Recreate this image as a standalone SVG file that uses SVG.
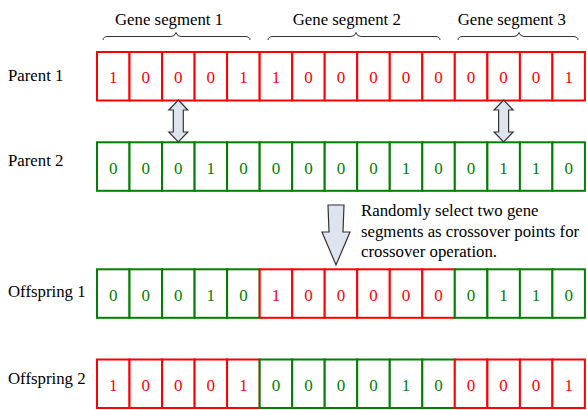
<svg xmlns="http://www.w3.org/2000/svg" width="587" height="410" viewBox="0 0 587 410">
<style>
.t{font-family:'Liberation Serif','Times New Roman',serif;font-size:16.8px;fill:#000}
.tr{font-family:'Liberation Serif','Times New Roman',serif;fill:#ff0000;text-anchor:middle;font-size:17px}
.tg{font-family:'Liberation Serif','Times New Roman',serif;fill:#008000;text-anchor:middle;font-size:17px}
.r{fill:#fff;stroke:#ff0000;stroke-width:2}
.g{fill:#fff;stroke:#008000;stroke-width:2}
.brace{fill:none;stroke:#333;stroke-width:1}
.arr{fill:#dde4ee;stroke:#333;stroke-width:1.2;stroke-linejoin:miter}
</style>
<g id="braces">
<path class="brace" d="M103,40 Q103,36.5 108,36.5 L171,36.5 Q175,36.5 176,32.5 Q177,36.5 181,36.5 L245,36.5 Q250,36.5 250,40"/>
<path class="brace" d="M268,40 Q268,36.5 273,36.5 L351,36.5 Q355,36.5 356,32.5 Q357,36.5 361,36.5 L435,36.5 Q440,36.5 440,40"/>
<path class="brace" d="M458,40 Q458,36.5 463,36.5 L514,36.5 Q518,36.5 519,32.5 Q520,36.5 524,36.5 L573,36.5 Q578,36.5 578,40"/>
<text class="t" x="115" y="25">Gene segment 1</text>
<text class="t" x="292.7" y="25">Gene segment 2</text>
<text class="t" x="457.7" y="25">Gene segment 3</text>
</g>
<g id="parent1">
<text class="t" x="8" y="81">Parent 1</text>
<rect class="r" x="97" y="52" width="32.5" height="48.5"/><rect class="r" x="129.5" y="52" width="32.5" height="48.5"/><rect class="r" x="162.1" y="52" width="32.5" height="48.5"/><rect class="r" x="194.6" y="52" width="32.5" height="48.5"/><rect class="r" x="227.1" y="52" width="32.5" height="48.5"/><rect class="r" x="259.7" y="52" width="32.5" height="48.5"/><rect class="r" x="292.2" y="52" width="32.5" height="48.5"/><rect class="r" x="324.7" y="52" width="32.5" height="48.5"/><rect class="r" x="357.2" y="52" width="32.5" height="48.5"/><rect class="r" x="389.8" y="52" width="32.5" height="48.5"/><rect class="r" x="422.3" y="52" width="32.5" height="48.5"/><rect class="r" x="454.8" y="52" width="32.5" height="48.5"/><rect class="r" x="487.4" y="52" width="32.5" height="48.5"/><rect class="r" x="519.9" y="52" width="32.5" height="48.5"/><rect class="r" x="552.4" y="52" width="32.5" height="48.5"/>
<text class="tr" x="113.3" y="83">1</text><text class="tr" x="145.8" y="83">0</text><text class="tr" x="178.3" y="83">0</text><text class="tr" x="210.8" y="83">0</text><text class="tr" x="243.4" y="83">1</text><text class="tr" x="275.9" y="83">1</text><text class="tr" x="308.4" y="83">0</text><text class="tr" x="341" y="83">0</text><text class="tr" x="373.5" y="83">0</text><text class="tr" x="406" y="83">0</text><text class="tr" x="438.5" y="83">0</text><text class="tr" x="471.1" y="83">0</text><text class="tr" x="503.6" y="83">0</text><text class="tr" x="536.1" y="83">0</text><text class="tr" x="568.7" y="83">1</text>
</g>
<g id="parent2">
<text class="t" x="8" y="166">Parent 2</text>
<rect class="g" x="97" y="142.3" width="32.5" height="48.5"/><rect class="g" x="129.5" y="142.3" width="32.5" height="48.5"/><rect class="g" x="162.1" y="142.3" width="32.5" height="48.5"/><rect class="g" x="194.6" y="142.3" width="32.5" height="48.5"/><rect class="g" x="227.1" y="142.3" width="32.5" height="48.5"/><rect class="g" x="259.7" y="142.3" width="32.5" height="48.5"/><rect class="g" x="292.2" y="142.3" width="32.5" height="48.5"/><rect class="g" x="324.7" y="142.3" width="32.5" height="48.5"/><rect class="g" x="357.2" y="142.3" width="32.5" height="48.5"/><rect class="g" x="389.8" y="142.3" width="32.5" height="48.5"/><rect class="g" x="422.3" y="142.3" width="32.5" height="48.5"/><rect class="g" x="454.8" y="142.3" width="32.5" height="48.5"/><rect class="g" x="487.4" y="142.3" width="32.5" height="48.5"/><rect class="g" x="519.9" y="142.3" width="32.5" height="48.5"/><rect class="g" x="552.4" y="142.3" width="32.5" height="48.5"/>
<text class="tg" x="113.3" y="173.5">0</text><text class="tg" x="145.8" y="173.5">0</text><text class="tg" x="178.3" y="173.5">0</text><text class="tg" x="210.8" y="173.5">1</text><text class="tg" x="243.4" y="173.5">0</text><text class="tg" x="275.9" y="173.5">0</text><text class="tg" x="308.4" y="173.5">0</text><text class="tg" x="341" y="173.5">0</text><text class="tg" x="373.5" y="173.5">0</text><text class="tg" x="406" y="173.5">1</text><text class="tg" x="438.5" y="173.5">0</text><text class="tg" x="471.1" y="173.5">0</text><text class="tg" x="503.6" y="173.5">1</text><text class="tg" x="536.1" y="173.5">1</text><text class="tg" x="568.7" y="173.5">0</text>
</g>
<g id="offspring1">
<text class="t" x="8" y="297">Offspring 1</text>
<rect class="g" x="97" y="269.3" width="32.5" height="48.5"/><rect class="g" x="129.5" y="269.3" width="32.5" height="48.5"/><rect class="g" x="162.1" y="269.3" width="32.5" height="48.5"/><rect class="g" x="194.6" y="269.3" width="32.5" height="48.5"/><rect class="g" x="227.1" y="269.3" width="32.5" height="48.5"/><rect class="r" x="259.7" y="269.3" width="32.5" height="48.5"/><rect class="r" x="292.2" y="269.3" width="32.5" height="48.5"/><rect class="r" x="324.7" y="269.3" width="32.5" height="48.5"/><rect class="r" x="357.2" y="269.3" width="32.5" height="48.5"/><rect class="r" x="389.8" y="269.3" width="32.5" height="48.5"/><rect class="r" x="422.3" y="269.3" width="32.5" height="48.5"/><rect class="g" x="454.8" y="269.3" width="32.5" height="48.5"/><rect class="g" x="487.4" y="269.3" width="32.5" height="48.5"/><rect class="g" x="519.9" y="269.3" width="32.5" height="48.5"/><rect class="g" x="552.4" y="269.3" width="32.5" height="48.5"/>
<text class="tg" x="113.3" y="301">0</text><text class="tg" x="145.8" y="301">0</text><text class="tg" x="178.3" y="301">0</text><text class="tg" x="210.8" y="301">1</text><text class="tg" x="243.4" y="301">0</text><text class="tr" x="275.9" y="301">1</text><text class="tr" x="308.4" y="301">0</text><text class="tr" x="341" y="301">0</text><text class="tr" x="373.5" y="301">0</text><text class="tr" x="406" y="301">0</text><text class="tr" x="438.5" y="301">0</text><text class="tg" x="471.1" y="301">0</text><text class="tg" x="503.6" y="301">1</text><text class="tg" x="536.1" y="301">1</text><text class="tg" x="568.7" y="301">0</text>
</g>
<g id="offspring2">
<text class="t" x="8" y="384">Offspring 2</text>
<rect class="r" x="97" y="359.5" width="32.5" height="48.5"/><rect class="r" x="129.5" y="359.5" width="32.5" height="48.5"/><rect class="r" x="162.1" y="359.5" width="32.5" height="48.5"/><rect class="r" x="194.6" y="359.5" width="32.5" height="48.5"/><rect class="r" x="227.1" y="359.5" width="32.5" height="48.5"/><rect class="g" x="259.7" y="359.5" width="32.5" height="48.5"/><rect class="g" x="292.2" y="359.5" width="32.5" height="48.5"/><rect class="g" x="324.7" y="359.5" width="32.5" height="48.5"/><rect class="g" x="357.2" y="359.5" width="32.5" height="48.5"/><rect class="g" x="389.8" y="359.5" width="32.5" height="48.5"/><rect class="g" x="422.3" y="359.5" width="32.5" height="48.5"/><rect class="r" x="454.8" y="359.5" width="32.5" height="48.5"/><rect class="r" x="487.4" y="359.5" width="32.5" height="48.5"/><rect class="r" x="519.9" y="359.5" width="32.5" height="48.5"/><rect class="r" x="552.4" y="359.5" width="32.5" height="48.5"/>
<text class="tr" x="113.3" y="391">1</text><text class="tr" x="145.8" y="391">0</text><text class="tr" x="178.3" y="391">0</text><text class="tr" x="210.8" y="391">0</text><text class="tr" x="243.4" y="391">1</text><text class="tg" x="275.9" y="391">0</text><text class="tg" x="308.4" y="391">0</text><text class="tg" x="341" y="391">0</text><text class="tg" x="373.5" y="391">0</text><text class="tg" x="406" y="391">1</text><text class="tg" x="438.5" y="391">0</text><text class="tr" x="471.1" y="391">0</text><text class="tr" x="503.6" y="391">0</text><text class="tr" x="536.1" y="391">0</text><text class="tr" x="568.7" y="391">1</text>
</g>
<g id="connectors">
<path class="arr" d="M178.3,100 L187.8,110 L183.3,110 L183.3,132 L187.8,132 L178.3,142 L168.8,132 L173.3,132 L173.3,110 L168.8,110 Z"/>
<path class="arr" d="M503.6,100 L513.1,110 L508.6,110 L508.6,132 L513.1,132 L503.6,142 L494.1,132 L498.6,132 L498.6,110 L494.1,110 Z"/>
<path class="arr" d="M328,205 L344,205 L343,232 L350,232 L336,265 L322,232 L329,232 Z"/>
</g>
<g id="note">
<text class="t" x="361" y="216">Randomly select two gene</text>
<text class="t" x="361" y="236.5">segments as crossover points for</text>
<text class="t" x="361" y="257">crossover operation.</text>
</g>
</svg>
